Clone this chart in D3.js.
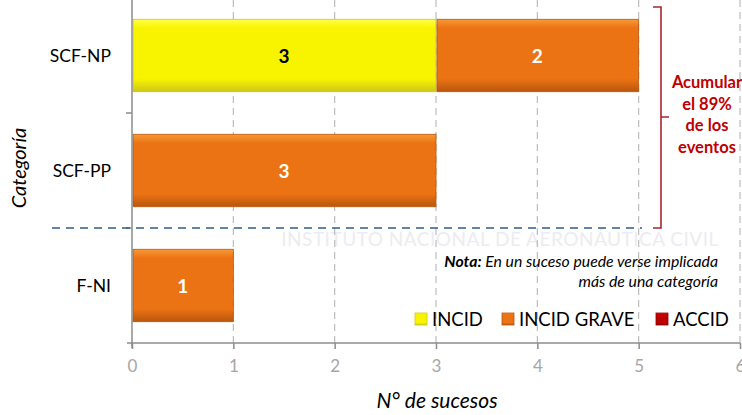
<!DOCTYPE html>
<html>
<head>
<meta charset="utf-8">
<script src="https://cdn.jsdelivr.net/npm/d3@7.9.0/dist/d3.min.js"></script>
<style>
  body { margin: 0; background: #fff; }
  svg { font-family: Lato, "Open Sans", sans-serif; display: block; }
</style>
</head>
<body>
<svg id="chart" width="742" height="415"></svg>
<script>
// data
const categories = ['SCF-NP', 'SCF-PP', 'F-NI'];
const series = ['INCID', 'INCID GRAVE', 'ACCID'];
const incid = [3, 0, 0];
const incidGrave = [2, 3, 1];
const accid = [0, 0, 0];
const xTicks = [0, 1, 2, 3, 4, 5, 6];
const bracketLabel = ['Acumular', 'el 89%', 'de los', 'eventos'];

const colors = {
  'INCID':       ['#ffff4a', '#f8f400', '#cfc61a'],
  'INCID GRAVE': ['#f89a38', '#ec7314', '#b9560c'],
  'ACCID':       ['#e8303a', '#c00000', '#8a0000']
};

const svg = d3.select('#chart');
const x = d3.scaleLinear().domain([0, 6]).range([132, 740]);
const y = d3.scaleBand().domain(categories).range([-2, 343]).paddingInner(0.37).paddingOuter(0.185);

// gradients for the bevel look
const defs = svg.append('defs');
series.forEach((s, i) => {
  const g = defs.append('linearGradient').attr('id', 'g' + i)
    .attr('x1', 0).attr('y1', 0).attr('x2', 0).attr('y2', 1);
  g.append('stop').attr('offset', '0').attr('stop-color', colors[s][0]);
  g.append('stop').attr('offset', '0.12').attr('stop-color', colors[s][1]);
  g.append('stop').attr('offset', '0.82').attr('stop-color', colors[s][1]);
  g.append('stop').attr('offset', '1').attr('stop-color', colors[s][2]);
});

// faint watermark text
svg.append('text').attr('x', 500).attr('y', 246).attr('text-anchor', 'middle')
  .attr('font-size', 19).attr('fill', '#ececf0').attr('letter-spacing', 0.5)
  .text('INSTITUTO NACIONAL DE AERONÁUTICA CIVIL');

// grid
svg.append('g').selectAll('line').data(xTicks.slice(1)).join('line')
  .attr('x1', d => x(d)).attr('x2', d => x(d)).attr('y1', 0).attr('y2', 343)
  .attr('stroke', '#bdbdbd').attr('stroke-width', 1.2).attr('stroke-dasharray', '7,5');

// stacked bars
const rows = categories.map((c, i) => ({ cat: c, INCID: incid[i], 'INCID GRAVE': incidGrave[i], ACCID: accid[i] }));
const stacked = d3.stack().keys(series)(rows);

stacked.forEach((layer, si) => {
  const g = svg.append('g');
  const segs = layer.filter(d => d[1] > d[0]);
  g.selectAll('rect').data(segs).join('rect')
    .attr('x', d => x(d[0]) + 1)
    .attr('y', d => y(d.data.cat))
    .attr('width', d => x(d[1]) - x(d[0]) - 1)
    .attr('height', y.bandwidth())
    .attr('fill', 'url(#g' + si + ')')
    .attr('stroke', colors[series[si]][2]).attr('stroke-width', 0.8);
  g.selectAll('text').data(segs).join('text')
    .attr('x', d => (x(d[0]) + x(d[1])) / 2)
    .attr('y', d => y(d.data.cat) + y.bandwidth() / 2 + 7)
    .attr('text-anchor', 'middle').attr('font-size', 19).attr('font-weight', 'bold')
    .attr('fill', si === 0 ? '#000' : '#fff')
    .text(d => d[1] - d[0]);
});

// axes
const xAxis = svg.append('g').attr('transform', 'translate(0,343)')
  .call(d3.axisBottom(x).tickValues(xTicks).tickFormat(d3.format('d')).tickSize(6).tickPadding(11));
xAxis.select('.domain').attr('d', 'M127,0H740').attr('stroke', '#8c8c8c').attr('stroke-width', 1.5);
xAxis.selectAll('.tick line').attr('stroke', '#8c8c8c').attr('stroke-width', 1.5);
xAxis.selectAll('.tick text').attr('fill', '#a6a6a6').attr('font-size', 17).attr('font-family', 'Lato, sans-serif');

svg.append('line').attr('x1', 132).attr('x2', 132).attr('y1', 0).attr('y2', 348)
  .attr('stroke', '#8c8c8c').attr('stroke-width', 1.5);
const bounds = [y(categories[1]) - y.step() * y.paddingInner() / 2, y(categories[2]) - y.step() * y.paddingInner() / 2];
svg.append('g').selectAll('line').data(bounds).join('line')
  .attr('x1', 126).attr('x2', 132).attr('y1', d => d).attr('y2', d => d)
  .attr('stroke', '#8c8c8c').attr('stroke-width', 1.5);

svg.append('g').selectAll('text').data(categories).join('text')
  .attr('x', 111).attr('y', d => y(d) + y.bandwidth() / 2 + 6)
  .attr('text-anchor', 'end').attr('font-size', 17.5).attr('fill', '#000')
  .text(d => d);

// axis titles
svg.append('text').attr('x', 437).attr('y', 408).attr('text-anchor', 'middle')
  .attr('font-size', 21).attr('font-style', 'italic').attr('fill', '#000').text('N° de sucesos');
svg.append('text').attr('transform', 'translate(26,168) rotate(-90)').attr('text-anchor', 'middle')
  .attr('font-size', 20).attr('font-style', 'italic').attr('fill', '#000').text('Categoría');

// blue dashed separator
svg.append('line').attr('x1', 52).attr('x2', 642).attr('y1', bounds[1]).attr('y2', bounds[1])
  .attr('stroke', '#2f5c8f').attr('stroke-width', 1.6).attr('stroke-dasharray', '8,6');

// bracket
const br = d3.path();
br.moveTo(653, 7); br.lineTo(661, 7); br.lineTo(661, bounds[1]); br.lineTo(653, bounds[1]);
br.moveTo(661, 117); br.lineTo(669, 117);
svg.append('path').attr('d', br.toString()).attr('fill', 'none')
  .attr('stroke', '#a5272d').attr('stroke-width', 1.6);

svg.append('g').selectAll('text').data(bracketLabel).join('text')
  .attr('x', 707).attr('y', (d, i) => 88 + i * 21.5).attr('text-anchor', 'middle')
  .attr('font-size', 16.5).attr('font-weight', 'bold').attr('fill', '#c00000').text(d => d);

// note
const note = svg.append('text').attr('x', 718).attr('y', 267).attr('text-anchor', 'end')
  .attr('font-size', 15.8).attr('font-style', 'italic').attr('fill', '#000');
note.append('tspan').attr('font-weight', 'bold').text('Nota:');
note.append('tspan').text(' En un suceso puede verse implicada');
svg.append('text').attr('x', 718).attr('y', 287).attr('text-anchor', 'end')
  .attr('font-size', 15.8).attr('font-style', 'italic').attr('fill', '#000').text('más de una categoría');

// legend
const legendX = [415, 502, 656];
const lg = svg.append('g').selectAll('g').data(series).join('g')
  .attr('transform', (d, i) => `translate(${legendX[i]},313)`);
lg.append('rect').attr('width', 12).attr('height', 12)
  .attr('fill', (d, i) => 'url(#g' + i + ')').attr('stroke', d => colors[d][2]).attr('stroke-width', 0.8);
lg.append('text').attr('x', 17).attr('y', 12.5).attr('font-size', 18.5).attr('fill', '#000').text(d => d);
</script>
</body>
</html>
